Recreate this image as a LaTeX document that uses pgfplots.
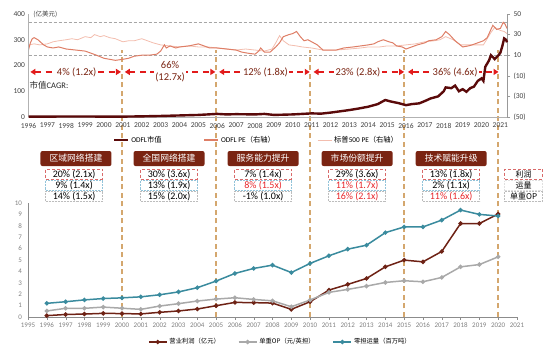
\documentclass[border=0pt]{standalone}
\usepackage{pgfplots}
\pgfplotsset{compat=1.18}
\usepackage{fontspec}
\setmainfont{Carlito}
\newfontfamily\cjk{Noto Sans CJK SC}
\usetikzlibrary{arrows.meta}
\definecolor{capc}{HTML}{5A0A0A}
\definecolor{pec}{HTML}{DE7E66}
\definecolor{spc}{HTML}{F3BDAE}
\definecolor{boxc}{HTML}{7A2412}
\definecolor{vline}{HTML}{D4A76E}
\definecolor{arr}{HTML}{E21B1B}
\definecolor{tealc}{HTML}{3A8B9E}
\definecolor{opg}{HTML}{A9A9A9}
\definecolor{profc}{HTML}{6E2215}
\definecolor{redt}{HTML}{E8262A}
\definecolor{tickc}{HTML}{404040}
\definecolor{rowr}{HTML}{D96A6A}
\definecolor{rowb}{HTML}{93C4DA}
\definecolor{rowg}{HTML}{BDBDBD}
\pgfplotsset{every axis/.append style={scale only axis,/pgf/number format/assume math mode=true}}
\tikzset{
  titlebox/.style={fill=boxc,text=white,rounded corners=2bp,minimum width=71bp,minimum height=15bp,inner sep=0pt,font=\cjk\fontsize{8.8bp}{10bp}\selectfont},
  rowbox/.style={minimum width=57bp,minimum height=10bp,inner sep=0pt,line width=0.5bp,font=\fontsize{10bp}{11bp}\selectfont},
  r1/.style={rowbox,draw=rowr,densely dashed},
  r2/.style={rowbox,draw=rowb,densely dotted},
  r3/.style={rowbox,draw=rowg,densely dotted},
  sidebox/.style={minimum width=38bp,minimum height=10bp,inner sep=0pt,line width=0.5bp,font=\cjk\fontsize{8bp}{9bp}\selectfont},
  cagr/.style={arr,line width=1.6bp,dash pattern=on 6bp off 4.5bp,{Triangle[length=5bp,width=6bp]}-{Triangle[length=5bp,width=6bp]}},
  cagrlab/.style={fill=white,inner sep=1.5bp,text=boxc,font=\fontsize{10.5bp}{12bp}\selectfont,align=center},
}
\begin{document}
\begin{tikzpicture}
\useasboundingbox (0,0) rectangle (550bp,354bp);
% ================= bottom panel =================
\begin{axis}[
  at={(28bp,37bp)}, anchor=south west,
  width=489bp, height=114bp,
  xmin=1995, xmax=2021, ymin=0, ymax=10,
  axis x line*=bottom, axis y line*=left,
  axis line style={draw=black!45,line width=0.6bp},
  xtick={1995,...,2021}, ytick={0,...,10},
  x tick label style={/pgf/number format/1000 sep={}},
  tick label style={font=\fontsize{7bp}{8bp}\selectfont,text=black!50},
  tick align=outside, major tick length=2.5bp,
  xtick style={draw=black!45}, ytick style={draw=none},
  clip=false,
  legend style={at={(0.245,-0.219)},anchor=west,draw=none,fill=none,inner sep=0pt,
    font=\cjk\fontsize{6.3bp}{7bp}\selectfont,
    /tikz/every even column/.append style={column sep=16bp}},
  legend columns=3, legend cell align=left,
  legend image code/.code={\draw[mark repeat=2,mark phase=2,#1] plot coordinates {(0bp,0bp) (9bp,0bp) (18bp,0bp)};},
]
\draw[vline,line width=2bp,dash pattern=on 5bp off 3.5bp] (axis cs:2000,0) -- (axis cs:2000,23.4);
\draw[vline,line width=2bp,dash pattern=on 5bp off 3.5bp] (axis cs:2005,0) -- (axis cs:2005,23.4);
\draw[vline,line width=2bp,dash pattern=on 5bp off 3.5bp] (axis cs:2010,0) -- (axis cs:2010,23.4);
\draw[vline,line width=2bp,dash pattern=on 5bp off 3.5bp] (axis cs:2015,0) -- (axis cs:2015,23.4);
\draw[vline,line width=2bp,dash pattern=on 5bp off 3.5bp] (axis cs:2020,0) -- (axis cs:2020,23.4);
\addplot[profc,line width=1.5bp,mark=*,mark size=1.4bp] coordinates {
(1996,0.12)(1997,0.22)(1998,0.26)(1999,0.32)(2000,0.30)(2001,0.27)(2002,0.41)(2003,0.53)(2004,0.70)(2005,0.99)
(2006,1.28)(2007,1.26)(2008,1.22)(2009,0.67)(2010,1.34)(2011,2.36)(2012,2.86)(2013,3.38)(2014,4.40)(2015,4.99)
(2016,4.84)(2017,5.75)(2018,8.20)(2019,8.20)(2020,9.04)};
\addlegendentry{营业利润（亿元）}
\addplot[opg,line width=1.5bp,mark=*,mark size=1.4bp] coordinates {
(1996,0.53)(1997,0.76)(1998,0.76)(1999,0.87)(2000,0.77)(2001,0.67)(2002,0.96)(2003,1.17)(2004,1.40)(2005,1.57)
(2006,1.69)(2007,1.54)(2008,1.42)(2009,0.90)(2010,1.49)(2011,2.16)(2012,2.42)(2013,2.71)(2014,3.03)(2015,3.18)
(2016,3.09)(2017,3.47)(2018,4.40)(2019,4.60)(2020,5.28)};
\addlegendentry{单重OP（元/英担）}
\addplot[tealc,line width=1.5bp,mark=*,mark size=1.4bp] coordinates {
(1996,1.20)(1997,1.34)(1998,1.50)(1999,1.62)(2000,1.68)(2001,1.77)(2002,1.95)(2003,2.20)(2004,2.57)(2005,3.15)
(2006,3.82)(2007,4.26)(2008,4.55)(2009,3.90)(2010,4.70)(2011,5.37)(2012,5.95)(2013,6.30)(2014,7.40)(2015,7.90)
(2016,7.90)(2017,8.50)(2018,9.38)(2019,9.00)(2020,8.86)};
\addlegendentry{零担运量（百万吨）}
% stage boxes
\node[titlebox] at (axis cs:1997.55,13.9) {区域网络搭建};
\node[titlebox] at (axis cs:2002.5,13.9) {全国网络搭建};
\node[titlebox] at (axis cs:2007.5,13.9) {服务能力提升};
\node[titlebox] at (axis cs:2012.5,13.9) {市场份额提升};
\node[titlebox] at (axis cs:2017.5,13.9) {技术赋能升级};
\node[r1] at (axis cs:1997.45,12.54) {20\% (2.1x)};
\node[r2] at (axis cs:1997.45,11.55) {9\% (1.4x)};
\node[r3] at (axis cs:1997.45,10.61) {14\% (1.5x)};
\node[r1] at (axis cs:2002.5,12.54) {30\% (3.6x)};
\node[r2] at (axis cs:2002.5,11.55) {13\% (1.9x)};
\node[r3] at (axis cs:2002.5,10.61) {15\% (2.0x)};
\node[r1] at (axis cs:2007.5,12.54) {7\% (1.4x)};
\node[r2,text=redt] at (axis cs:2007.5,11.55) {8\% (1.5x)};
\node[r3] at (axis cs:2007.5,10.61) {-1\% (1.0x)};
\node[r1] at (axis cs:2012.5,12.54) {29\% (3.6x)};
\node[r2,text=redt] at (axis cs:2012.5,11.55) {11\% (1.7x)};
\node[r3,text=redt] at (axis cs:2012.5,10.61) {16\% (2.1x)};
\node[r1] at (axis cs:2017.5,12.54) {13\% (1.8x)};
\node[r2] at (axis cs:2017.5,11.55) {2\% (1.1x)};
\node[r3,text=redt] at (axis cs:2017.5,10.61) {11\% (1.6x)};
\node[sidebox,draw=rowr,densely dashed] at (axis cs:2021.35,12.54) {利润};
\node[sidebox,draw=black!12,densely dotted] at (axis cs:2021.35,11.55) {运量};
\node[sidebox,draw=rowg,densely dotted] at (axis cs:2021.35,10.61) {单重OP};
\end{axis}
% ================= top panel, right axis (PE) =================
\begin{axis}[
  at={(28.5bp,237bp)}, anchor=south west,
  width=478.5bp, height=103bp,
  xmin=1996, xmax=2021.35, ymin=-50, ymax=50,
  axis x line=none, axis y line*=right,
  axis line style={draw=black!40,line width=0.5bp},
  ytick={-50,-30,-10,10,30,50}, yticklabels={(50),(30),(10),10,30,50},
  yticklabel style={font=\fontsize{7.5bp}{8bp}\selectfont,text=tickc},
  tick align=outside, major tick length=3bp, ytick style={draw=black!40},
]
\addplot[black!35,line width=0.7bp,dash pattern=on 3bp off 2bp] coordinates {(1996,42)(2021.35,42)};
\addplot[black!35,line width=0.7bp,dash pattern=on 3bp off 2bp] coordinates {(1996,10)(2021.35,10)};
\addplot[spc,line width=0.8bp] coordinates {
(1996,20)(1996.3,21)(1996.6,20)(1997,21)(1997.3,23)(1997.6,24)(1998,25)(1998.3,26)(1998.6,25)(1999,28)(1999.3,27)(1999.5,30)(1999.8,28)
(2000,29)(2000.3,27)(2000.6,26)(2001,23)(2001.3,24)(2001.6,24)(2002,26)(2002.3,24)(2002.6,22)(2003,20)(2003.5,19)(2004,18)(2004.5,19)
(2005,18)(2005.5,18)(2006,17)(2006.5,16)(2007,15)(2007.5,16)(2008,15)(2008.5,14)(2008.9,16)(2009.1,22)(2009.3,29)(2009.5,24)(2009.8,20)
(2010.2,19)(2010.5,18)(2011,17)(2011.6,15)(2012.3,15)(2013,16)(2013.6,17)(2014,18)(2014.6,18)(2015,19)(2015.5,19)(2016,20)(2016.5,21)
(2017,23)(2017.5,24)(2017.8,25)(2018.1,28)(2018.5,25)(2018.9,20)(2019.3,20)(2019.7,20)(2020.1,20)(2020.3,26)(2020.5,32)(2020.7,37)
(2021,34)(2021.2,33)(2021.35,31)};
\addplot[pec,line width=1bp] coordinates {
(1996,15)(1996.1,22)(1996.2,26)(1996.3,27)(1996.5,25)(1996.8,20)(1997,18)(1997.3,17)(1997.6,18)(1998,16)(1998.5,15)(1999,14)(1999.3,12)
(1999.6,10)(2000,7)(2000.3,6)(2000.6,5)(2001,6)(2001.3,7)(2001.6,9)(2002,10)(2002.4,10)(2002.8,11)(2003,14)(2003.2,20)(2003.3,17)
(2003.5,19)(2003.8,17)(2004,18)(2004.5,19)(2005,21)(2005.3,19)(2005.6,17)(2006,17)(2006.5,16)(2007,15)(2007.3,13)(2007.6,12)(2008,11)
(2008.2,14)(2008.3,17)(2008.5,13)(2008.8,13)(2009.1,18)(2009.3,22)(2009.5,28)(2009.8,30)(2010,31)(2010.2,33)(2010.4,28)(2010.6,24)
(2010.8,25)(2011,23)(2011.3,20)(2011.6,15)(2012,15)(2012.3,15)(2012.7,17)(2013.2,18)(2013.6,19)(2014,20)(2014.3,21)(2014.5,23)
(2014.8,25)(2015.1,23)(2015.3,22)(2015.5,19)(2015.8,18)(2016,16)(2016.3,18)(2016.6,20)(2017,22)(2017.2,24)(2017.6,25)(2017.9,28)
(2018.1,33)(2018.3,30)(2018.6,24)(2018.8,21)(2019,18)(2019.3,19)(2019.5,20)(2019.8,22)(2020.1,24)(2020.3,27)(2020.5,35)(2020.6,39)
(2020.8,35)(2021,36)(2021.15,42)(2021.25,40)(2021.35,36)};
\end{axis}
% ================= top panel, left axis (market cap) =================
\begin{axis}[
  at={(28.5bp,237bp)}, anchor=south west,
  width=478.5bp, height=103bp,
  xmin=1996, xmax=2021.35, ymin=0, ymax=400,
  axis x line*=bottom, axis y line*=left,
  axis line style={draw=black!30,line width=0.5bp},
  xtick={1996,...,2021}, ytick={0,100,...,400},
  x tick label style={/pgf/number format/1000 sep={},yshift=-2.5bp},
  tick label style={font=\fontsize{7.5bp}{8bp}\selectfont,text=tickc},
  major tick length=0pt,
  clip=false,
  legend style={at={(0.176,-0.225)},anchor=west,draw=none,fill=none,inner sep=0pt,
    font=\fontsize{7.3bp}{8bp}\selectfont,
    /tikz/every even column/.append style={column sep=40bp}},
  legend columns=3, legend cell align=left,
  legend image code/.code={\draw[#1] (0bp,0bp) -- (14bp,0bp);},
]
\addplot[capc,line width=2.4bp] coordinates {
(1996,1.5)(1997,1.5)(1998,2)(1999,2)(2000,1.5)(2001,1.5)(2002,2.5)(2003,4)(2004,6)(2005,8)(2006,12)(2006.5,10)(2007,11)(2008,10)
(2008.5,12)(2009,8)(2010,10)(2011,14)(2011.5,13)(2012,17)(2012.5,22)(2013,27)(2013.5,33)(2014,40)(2014.5,50)(2014.9,66)(2015.2,60)
(2015.6,54)(2016,46)(2016.3,50)(2016.7,53)(2017,62)(2017.3,72)(2017.7,80)(2018,100)(2018.1,115)(2018.4,112)(2018.6,122)(2018.8,100)
(2019,108)(2019.2,98)(2019.4,112)(2019.6,118)(2019.8,140)(2020,150)(2020.1,140)(2020.2,195)(2020.4,220)(2020.5,240)(2020.7,225)
(2020.9,240)(2021,250)(2021.1,275)(2021.2,305)(2021.3,300)(2021.35,290)};
\addlegendentry{ODFL{\cjk 市值}}
\addlegendimage{pec,line width=1.4bp}
\addlegendentry{ODFL PE{\cjk （右轴）}}
\addlegendimage{spc,line width=1.2bp}
\addlegendentry{{\cjk 标普}500 PE{\cjk （右轴）}}
% CAGR arrows
\draw[cagr] (axis cs:1996.1,175) -- (axis cs:2000.9,175);
\draw[cagr] (axis cs:2001.1,175) -- (axis cs:2005.9,175);
\draw[cagr] (axis cs:2006.1,175) -- (axis cs:2010.9,175);
\draw[cagr] (axis cs:2011.1,175) -- (axis cs:2015.9,175);
\draw[cagr] (axis cs:2016.1,175) -- (axis cs:2020.9,175);
\node[cagrlab] at (axis cs:1998.55,175) {4\% (1.2x)};
\node[cagrlab] at (axis cs:2003.5,175) {66\%\\(12.7x)};
\node[cagrlab] at (axis cs:2008.55,175) {12\% (1.8x)};
\node[cagrlab] at (axis cs:2013.45,175) {23\% (2.8x)};
\node[cagrlab] at (axis cs:2018.6,175) {36\% (4.6x)};
\node[anchor=west,inner sep=0pt,text=black!85,font=\fontsize{8.5bp}{9bp}\selectfont] at (axis cs:1996.05,124) {{\cjk 市值}CAGR:};
\node[anchor=west,inner sep=0pt,text=tickc,font=\cjk\fontsize{6.5bp}{7bp}\selectfont] at (axis cs:1996.25,400) {(亿美元)};
\end{axis}
\end{tikzpicture}
\end{document}
